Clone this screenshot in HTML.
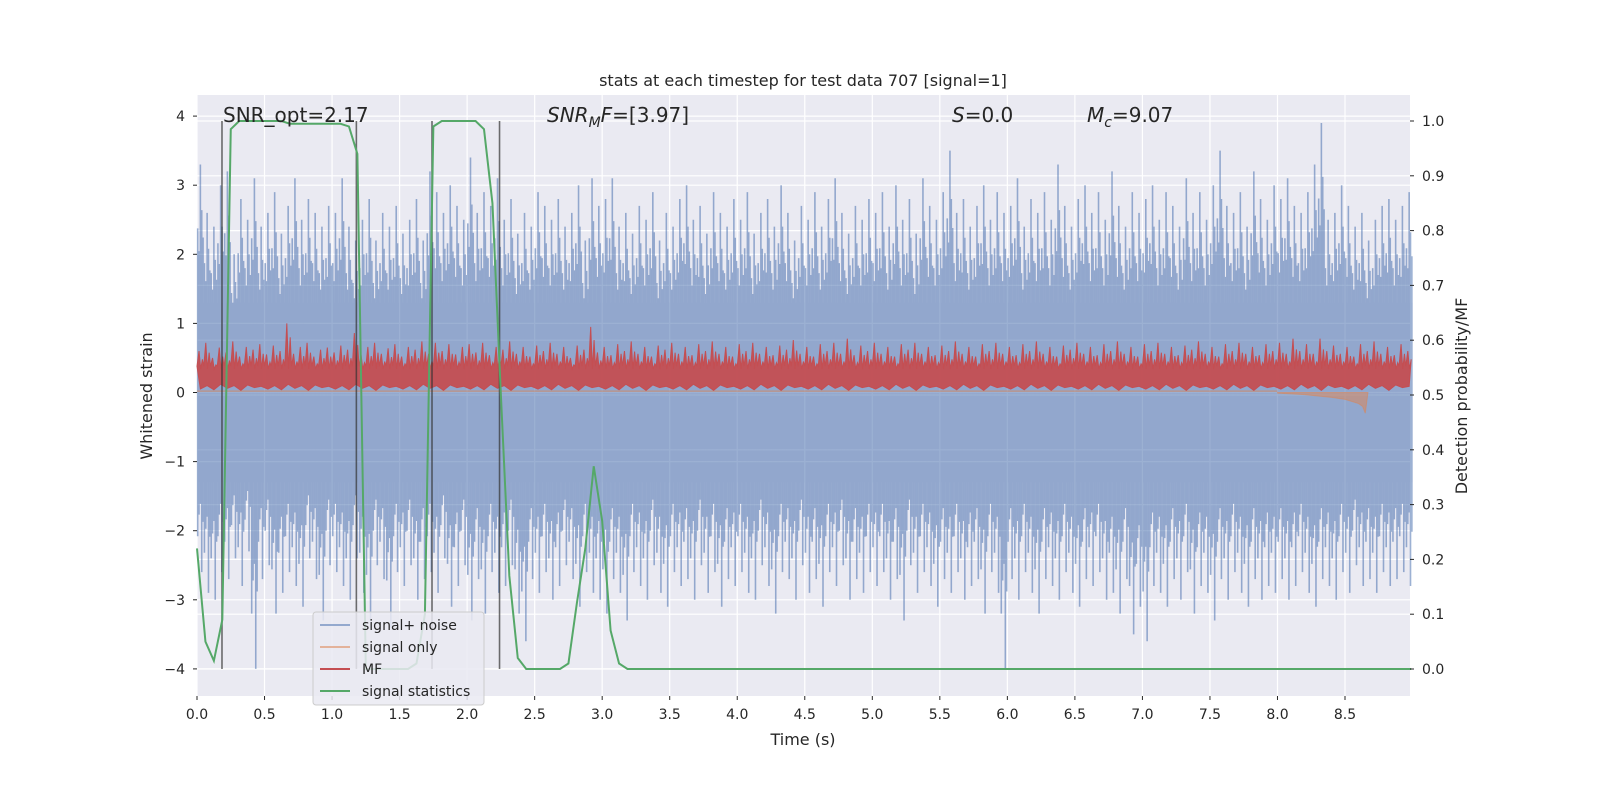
<!DOCTYPE html>
<html><head><meta charset="utf-8"><style>
body{margin:0;background:#fff}
svg text{font-family:"DejaVu Sans","Liberation Sans",sans-serif;fill:#262626}
</style></head><body>
<svg id="chart" width="1600" height="800" xmlns="http://www.w3.org/2000/svg">
<rect width="1600" height="800" fill="#fff"/>
<rect x="197" y="95" width="1213" height="601" fill="#eaeaf2"/>
<g id="grid"></g>
<g id="noise" opacity="0.55"></g>
<g id="series"></g><g id="axes"></g>
<text x="803" y="86" font-size="16" text-anchor="middle">stats at each timestep for test data 707 [signal=1]</text>
<text x="803" y="745" font-size="16" text-anchor="middle">Time (s)</text>
<text transform="translate(152,396) rotate(-90)" font-size="16" text-anchor="middle">Whitened strain</text>
<text transform="translate(1467,396) rotate(-90)" font-size="16" text-anchor="middle">Detection probability/MF</text>
<text x="223" y="122" font-size="20">SNR_opt=2.17</text>
<text x="547" y="122" font-size="20"><tspan font-style="italic">SNR</tspan><tspan font-style="italic" font-size="14" dy="5">M</tspan><tspan font-style="italic" dy="-5">F</tspan>=[3.97]</text>
<text x="952" y="122" font-size="20"><tspan font-style="italic">S</tspan>=0.0</text>
<text x="1087" y="122" font-size="20"><tspan font-style="italic">M</tspan><tspan font-style="italic" font-size="14" dy="5">c</tspan><tspan dy="-5">=9.07</tspan></text>
<g>
<rect x="313" y="612" width="171" height="93" rx="3" fill="#eaeaf2" fill-opacity="0.85" stroke="#cccccc"/>
<g><line x1="320" y1="625" x2="350" y2="625" stroke="#4c72b0" stroke-opacity="0.55" stroke-width="2"/><text x="362" y="630" font-size="14">signal+ noise</text></g>
<g><line x1="320" y1="647" x2="350" y2="647" stroke="#dd8452" stroke-opacity="0.55" stroke-width="2"/><text x="362" y="652" font-size="14">signal only</text></g>
<g><line x1="320" y1="669" x2="350" y2="669" stroke="#c44e52" stroke-width="2"/><text x="362" y="674" font-size="14">MF</text></g>
<g><line x1="320" y1="691" x2="350" y2="691" stroke="#55a868" stroke-width="2"/><text x="362" y="696" font-size="14">signal statistics</text></g>
</g>
</svg>
<script>
const binWidth = 0.05;
const noiseUpper = [3.3,2.6,2.4,3.0,3.2,2.0,2.8,2.5,3.1,2.4,2.6,2.9,2.3,2.7,3.1,2.5,2.8,2.6,2.4,2.7,
2.6,3.1,2.4,2.2,2.5,2.8,2.2,2.6,2.4,2.7,2.3,2.5,2.8,2.2,3.2,2.9,2.6,3.0,2.7,2.5,
3.4,2.6,2.9,2.7,3.1,2.5,2.8,2.3,2.6,2.4,2.9,2.7,2.5,2.8,2.4,2.6,3.0,2.2,3.1,2.7,
2.8,3.1,2.4,2.6,2.3,2.7,2.5,2.9,2.2,2.6,2.4,2.8,3.0,2.5,2.7,2.3,2.9,2.6,2.4,2.8,
2.5,2.9,2.3,2.6,2.8,2.4,3.0,2.6,2.2,2.7,2.5,2.9,2.4,2.8,3.1,2.6,2.3,2.7,2.5,2.8,
2.6,2.9,2.4,3.0,2.5,2.8,2.3,3.1,2.7,2.5,2.9,3.5,2.6,2.8,2.4,2.7,3.0,2.5,2.9,2.6,
2.7,3.1,2.4,2.8,2.6,2.9,2.5,3.3,2.7,2.4,2.8,3.0,2.6,2.9,2.5,3.2,2.7,2.4,2.9,2.6,
2.8,3.0,2.5,2.9,2.7,2.4,3.1,2.6,2.9,2.5,3.0,3.5,2.7,2.6,2.9,2.4,3.2,2.8,2.5,3.0,
2.8,3.1,2.7,2.6,2.9,3.3,3.9,2.5,2.6,3.0,2.7,2.4,2.6,2.2,2.5,2.7,2.8,2.5,2.7,2.9];
const noiseLower = [-2.6,-2.9,-3.0,-2.6,-2.7,-2.4,-2.8,-2.3,-4.0,-2.7,-2.5,-3.2,-2.9,-2.6,-2.8,-3.1,-2.4,-2.7,-3.3,-2.5,
-2.6,-2.8,-3.0,-2.4,-2.9,-3.3,-2.5,-2.7,-3.4,-2.6,-2.8,-2.5,-3.0,-2.7,-2.6,-2.9,-2.4,-3.1,-2.8,-2.5,
-3.3,-2.7,-3.2,-2.6,-2.9,-2.8,-2.5,-3.2,-3.6,-2.7,-2.9,-2.6,-3.0,-2.8,-2.5,-2.7,-3.1,-2.6,-2.9,-3.0,
-3.2,-2.7,-2.9,-3.3,-2.6,-2.8,-3.0,-2.5,-2.9,-3.1,-2.6,-2.8,-2.7,-3.0,-2.5,-2.9,-2.6,-3.1,-2.7,-2.8,
-2.6,-2.9,-3.0,-2.5,-2.8,-3.2,-2.6,-2.7,-3.0,-2.5,-2.9,-2.7,-3.1,-2.6,-2.8,-2.5,-3.0,-2.7,-2.9,-2.6,
-2.8,-2.6,-3.0,-2.7,-3.3,-2.5,-2.9,-2.6,-2.8,-3.1,-2.7,-2.9,-2.6,-3.0,-2.8,-2.7,-3.2,-2.6,-2.9,-4.0,
-2.7,-3.0,-2.6,-2.9,-3.2,-2.7,-2.8,-3.0,-2.6,-2.9,-3.1,-2.7,-2.8,-2.6,-3.0,-2.9,-3.2,-2.7,-3.5,-3.1,
-3.6,-2.8,-2.9,-3.1,-2.7,-3.0,-2.6,-3.2,-2.8,-2.9,-3.3,-2.7,-3.0,-2.6,-2.9,-3.1,-2.7,-3.0,-2.8,-2.9,
-2.7,-3.0,-2.8,-2.6,-2.9,-3.1,-2.7,-2.8,-3.0,-2.6,-2.9,-2.5,-2.8,-2.7,-2.9,-2.6,-2.8,-2.7,-2.6,-2.8];
const noiseCore = 1.3;
const mfHigh = [0.6,0.72,0.5,0.65,0.58,0.74,0.52,0.66,0.62,0.7,0.55,0.68,0.6,1.0,0.56,0.66,0.72,0.52,0.62,0.65,
0.58,0.68,0.62,0.86,0.54,0.66,0.72,0.56,0.64,0.7,0.52,0.66,0.62,0.74,0.56,0.72,0.6,0.7,0.55,0.66,
0.7,0.58,0.72,0.54,0.66,0.62,0.74,0.56,0.66,0.52,0.68,0.6,0.72,0.56,0.66,0.5,0.68,0.62,0.95,0.58,
0.66,0.54,0.7,0.6,0.74,0.56,0.66,0.52,0.68,0.62,0.72,0.56,0.66,0.54,0.7,0.6,0.74,0.56,0.66,0.52,
0.7,0.6,0.72,0.56,0.66,0.54,0.68,0.62,0.76,0.56,0.66,0.52,0.7,0.6,0.72,0.56,0.78,0.54,0.68,0.6,
0.72,0.56,0.66,0.52,0.7,0.62,0.72,0.56,0.66,0.54,0.68,0.6,0.74,0.56,0.66,0.52,0.7,0.6,0.72,0.56,
0.66,0.54,0.7,0.6,0.74,0.56,0.66,0.52,0.68,0.62,0.72,0.56,0.66,0.54,0.7,0.6,0.74,0.56,0.66,0.52,
0.7,0.6,0.72,0.56,0.66,0.54,0.68,0.62,0.74,0.56,0.66,0.52,0.7,0.6,0.72,0.56,0.66,0.54,0.7,0.6,
0.72,0.56,0.78,0.6,0.7,0.56,0.78,0.6,0.68,0.56,0.66,0.52,0.7,0.6,0.74,0.56,0.66,0.54,0.7,0.6];
const mfLow = [0.05,0.1,0.04,0.12,0.06,0.1,0.03,0.11,0.07,0.09];
const signalTimes = [8.0,8.1,8.2,8.3,8.4,8.5,8.6,8.63,8.65,8.67];
const signalValues = [-0.01,-0.02,-0.03,-0.05,-0.07,-0.1,-0.16,-0.2,-0.3,0];
const statStep = 0.0625;
const statValues = [0.22,0.05,0.015,0.09,0.985,1.0,1.0,1.0,1.0,1.0,1.0,0.995,0.995,0.995,0.995,0.995,0.995,0.995,0.99,0.94,0.0,0.0,0.0,0.0,0.0,0.0,0.01,0.1,0.99,1.0,1.0,1.0,1.0,1.0,0.985,0.85,0.5,0.17,0.02,0.0,0.0,0.0,0.0,0.0,0.01,0.12,0.22,0.37,0.27,0.07,0.01,0.0];
const statEnd = 8.99;
const vlineTimes = [0.185,1.18,1.74,2.24];
const xTicks = [0,0.5,1,1.5,2,2.5,3,3.5,4,4.5,5,5.5,6,6.5,7,7.5,8,8.5];
const yTicks = [-4,-3,-2,-1,0,1,2,3,4];
const y2Ticks = [0,0.1,0.2,0.3,0.4,0.5,0.6,0.7,0.8,0.9,1.0];

const NS='http://www.w3.org/2000/svg';
const X = t => 197 + t*135.06;
const Y = v => 392.5 - v*69.1;
const Y2 = p => 669 - p*548;
function mk(tag, attrs, parent){const e=document.createElementNS(NS,tag);for(const k in attrs)e.setAttribute(k,attrs[k]);parent.appendChild(e);return e;}
const gridG=document.getElementById('grid'), seriesG=document.getElementById('series'), axesG=document.getElementById('axes'), noiseG=document.getElementById('noise');

xTicks.forEach(t=>{
  const g=mk('line',{x1:X(t),x2:X(t),y1:95,y2:696,stroke:'#fff','stroke-width':1.2},gridG);
  
  
  const tk=mk('line',{x1:X(t),x2:X(t),y1:696,y2:700,stroke:'#262626'},axesG);
  
  
  const l=mk('text',{x:X(t),y:719,'font-size':14,'text-anchor':'middle'},axesG);
  
  
  l.textContent=t.toFixed(1);
});
yTicks.forEach(v=>{
  const g=mk('line',{x1:197,x2:1410,y1:Y(v),y2:Y(v),stroke:'#fff','stroke-width':1.2},gridG);
  
  
  const tk=mk('line',{x1:193,x2:197,y1:Y(v),y2:Y(v),stroke:'#262626'},axesG);
  
  
  const l=mk('text',{x:185,y:Y(v)+5,'font-size':14,'text-anchor':'end'},axesG);
  
  
  l.textContent=(v<0?'\u2212'+(-v):String(v));
});
y2Ticks.forEach(p=>{
  const g=mk('line',{x1:197,x2:1410,y1:Y2(p),y2:Y2(p),stroke:'#fff','stroke-width':1.2},gridG);
  
  
  const tk=mk('line',{x1:1410,x2:1414,y1:Y2(p),y2:Y2(p),stroke:'#262626'},axesG);
  
  
  const l=mk('text',{x:1422,y:Y2(p)+5,'font-size':14},axesG);
  
  
  l.textContent=p.toFixed(1);
});

const blue='#4c72b0';
const coreRect=mk('rect',{x:X(0),y:Y(noiseCore),width:X(noiseUpper.length*binWidth)-X(0),height:Y(-noiseCore)-Y(noiseCore),fill:blue},noiseG);


noiseUpper.forEach((u,i)=>{
  const lo=noiseLower[i], t0=i*binWidth;
  const fr=[0.5,0.1,0.3,0.7,0.9], sc=[1,0.72,0.62,0.8,0.68];
  fr.forEach((f,j)=>{
    const sp=mk('line',{x1:X(t0+binWidth*f),x2:X(t0+binWidth*f),y1:Y(u*sc[j]),y2:Y(lo*sc[(j+2)%5]),stroke:blue,'stroke-width':1.6},noiseG);
    
    
  });
});
let sd='M'+X(signalTimes[0])+','+Y(0);
signalTimes.forEach((t,i)=>{sd+=' L'+X(t)+','+Y(signalValues[i]);});
const sig=mk('path',{d:sd+' Z',fill:'#dd8452','fill-opacity':0.5,stroke:'#dd8452','stroke-opacity':0.5},seriesG);


const sig0=mk('line',{x1:X(0),x2:X(8.0),y1:Y(0.02),y2:Y(0.02),stroke:'#dd8452','stroke-opacity':0.5,'stroke-width':1.5},seriesG);


let mfTop='', mfBot=[];
mfHigh.forEach((h,i)=>{const t=i*binWidth;mfTop+=(i?' L':'M')+X(t)+','+Y(0.38)+' L'+X(t+binWidth*0.3)+','+Y(h)+' L'+X(t+binWidth*0.55)+','+Y(0.34)+' L'+X(t+binWidth*0.8)+','+Y(h*0.8);
  mfBot.push(X(t+binWidth*0.5)+','+Y(mfLow[i%mfLow.length]));});
const md=mfTop+' L'+mfBot.reverse().join(' L')+' Z';
const mf=mk('path',{d:md,fill:'#c44e52','fill-opacity':0.95,stroke:'#c44e52','stroke-width':1},seriesG);


vlineTimes.forEach(t=>{
  const v=mk('line',{x1:X(t),x2:X(t),y1:Y2(1.0),y2:Y2(0),stroke:'#333','stroke-opacity':0.7,'stroke-width':1.6},seriesG);
  
  
});
let pts=statValues.map((p,i)=>X(i*statStep)+','+Y2(p));
pts.push(X(statEnd)+','+Y2(statValues[statValues.length-1]));
const st=mk('polyline',{points:pts.join(' '),fill:'none',stroke:'#55a868','stroke-width':2},seriesG);


</script>
</body></html>
